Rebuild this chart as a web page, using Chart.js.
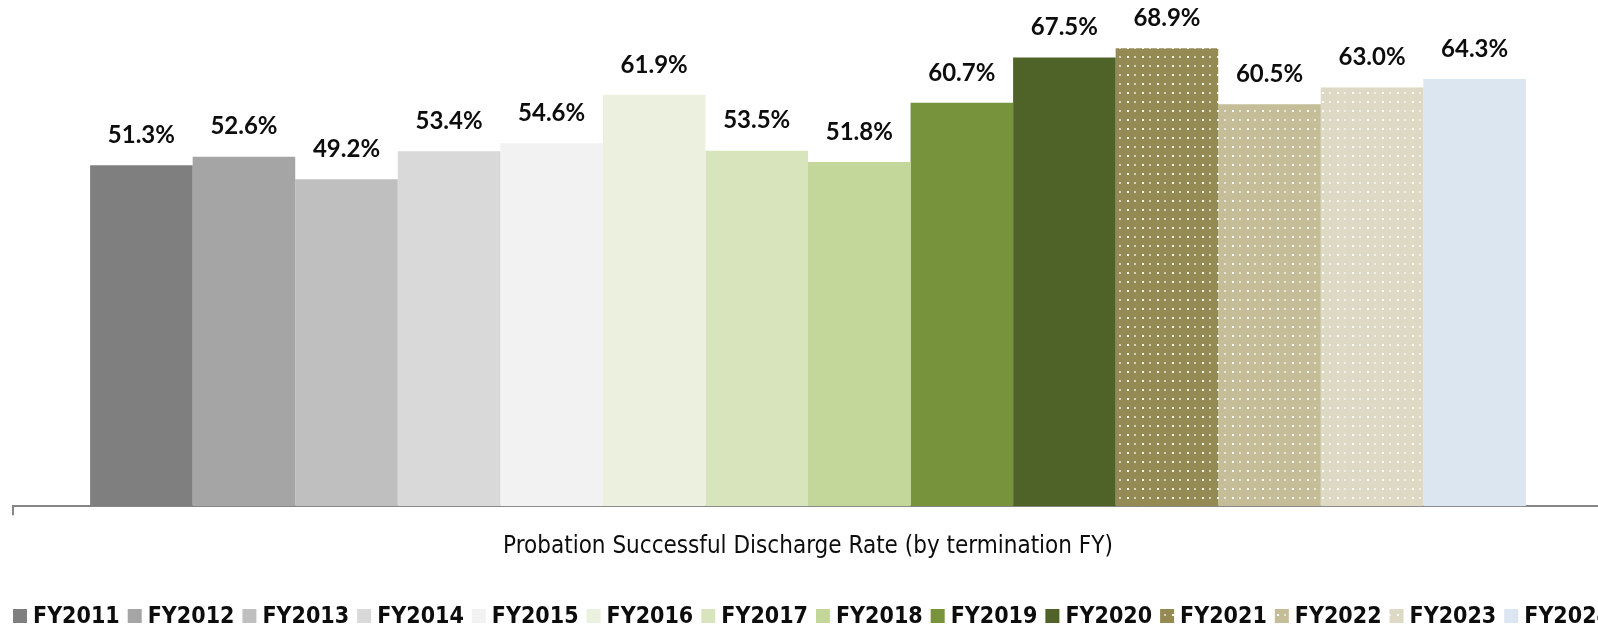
<!DOCTYPE html>
<html>
<head>
<meta charset="utf-8">
<script src="https://cdn.jsdelivr.net/npm/chart.js@4.4.1/dist/chart.umd.min.js"></script>
<style>
  html, body { margin: 0; padding: 0; background: #fff; overflow: hidden; }
  #wrap { width: 1616px; height: 631px; }
</style>
</head>
<body>
<div id="wrap"><canvas id="chart" width="1616" height="631"></canvas></div>
<script>
var categories = ["Probation Successful Discharge Rate (by termination FY)"];

var years = ["FY2011", "FY2012", "FY2013", "FY2014", "FY2015", "FY2016", "FY2017",
             "FY2018", "FY2019", "FY2020", "FY2021", "FY2022", "FY2023", "FY2024"];

var rates = [51.3, 52.6, 49.2, 53.4, 54.6, 61.9, 53.5, 51.8, 60.7, 67.5, 68.9, 60.5, 63.0, 64.3];

var colors = ["#7F7F7F", "#A5A5A5", "#BFBFBF", "#D9D9D9", "#F2F2F2", "#EBF1DE", "#D8E4BC",
              "#C4D79B", "#77933C", "#4F6228", "#948A54", "#C4BD97", "#DDD9C4", "#DCE6F1"];

// which years get the dotted fill
var dotted = [false, false, false, false, false, false, false,
              false, false, false, true, true, true, false];

var narrow = "'DejaVu Sans Condensed', Lato, sans-serif";

// small tile with white dots, used as a repeating fill
function dotPattern(base) {
    var tile = document.createElement("canvas");
    tile.width = 15;
    tile.height = 9;
    var t = tile.getContext("2d");
    t.fillStyle = base;
    t.fillRect(0, 0, 15, 9);
    t.fillStyle = "#ffffff";
    t.globalAlpha = 0.95;
    t.fillRect(2, 2, 2, 2);
    t.globalAlpha = 0.6;
    t.fillRect(9, 2, 2, 2);
    return document.getElementById("chart").getContext("2d").createPattern(tile, "repeat");
}

var fills = colors.map(function (c, i) { return dotted[i] ? dotPattern(c) : c; });

var datasets = years.map(function (y, i) {
    return {
        label: y,
        data: [rates[i]],
        backgroundColor: fills[i],
        borderWidth: 0,
        categoryPercentage: 0.903,
        barPercentage: 1.0
    };
});

// value labels above each bar
var valueLabels = {
    id: "valueLabels",
    afterDatasetsDraw: function (chart) {
        var ctx = chart.ctx;
        ctx.save();
        ctx.font = "bold 24px Lato, sans-serif";
        ctx.fillStyle = "#0D0D0D";
        ctx.textAlign = "center";
        ctx.textBaseline = "middle";
        chart.data.datasets.forEach(function (ds, i) {
            var bar = chart.getDatasetMeta(i).data[0];
            ctx.fillText(ds.data[0].toFixed(1) + "%", bar.x, bar.y - 30);
        });
        ctx.restore();
    }
};

// legend drawn in one row from the left edge of the plot; it runs off the right side
var rowLegend = {
    id: "rowLegend",
    afterDraw: function (chart) {
        var ctx = chart.ctx;
        var box = 14, gap = 6, space = 8;
        ctx.save();
        ctx.font = "bold 23px " + narrow;
        ctx.textBaseline = "middle";
        ctx.textAlign = "left";
        var x = chart.chartArea.left;
        var y = 616;
        years.forEach(function (label, i) {
            ctx.fillStyle = fills[i];
            ctx.fillRect(x, y - box / 2, box, box);
            ctx.fillStyle = "#0D0D0D";
            ctx.fillText(label, x + box + gap, y + 1);
            x += box + gap + ctx.measureText(label).width + space;
        });
        ctx.restore();
    }
};

var chart = new Chart(document.getElementById("chart"), {
    type: "bar",
    data: {
        labels: categories,
        datasets: datasets
    },
    options: {
        responsive: false,
        animation: false,
        layout: { padding: { left: 13, right: 13, top: 41, bottom: 53 } },
        plugins: {
            legend: { display: false },
            tooltip: { enabled: false }
        },
        scales: {
            x: {
                grid: {
                    display: true,
                    drawOnChartArea: false,
                    drawTicks: true,
                    tickLength: 9,
                    color: "#868686",
                    lineWidth: 2
                },
                border: { display: true, color: "#868686", width: 2 },
                ticks: {
                    color: "#0D0D0D",
                    padding: 17,
                    font: { family: narrow, size: 24 }
                }
            },
            y: {
                display: false,
                min: 0,
                max: 70
            }
        }
    },
    plugins: [valueLabels, rowLegend]
});
</script>
</body>
</html>
